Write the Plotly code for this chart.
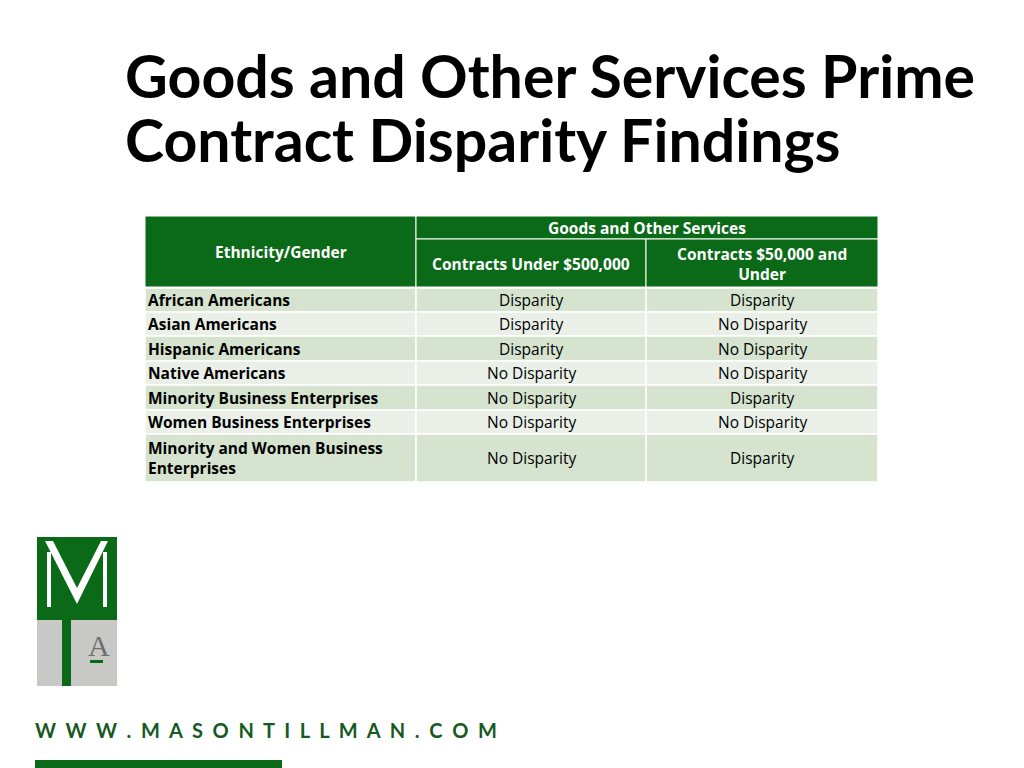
import plotly.graph_objects as go

title_lines = ["Goods and Other Services Prime", "Contract Disparity Findings"]
group_header = "Goods and Other Services"
col_headers = ["Ethnicity/Gender", "Contracts Under $500,000", "Contracts $50,000 and<br>Under"]
groups = ["African Americans", "Asian Americans", "Hispanic Americans", "Native Americans",
          "Minority Business Enterprises", "Women Business Enterprises",
          "Minority and Women Business<br>Enterprises"]
under_500k = ["Disparity", "Disparity", "Disparity", "No Disparity", "No Disparity",
              "No Disparity", "No Disparity"]
under_50k = ["Disparity", "No Disparity", "No Disparity", "No Disparity", "Disparity",
             "No Disparity", "Disparity"]
website = "WWW.MASONTILLMAN.COM"

GREEN = "#0a6a17"
ROW_A = "#d5e3cf"
ROW_B = "#eaf0e8"
FONT = "Open Sans"
OFF = -8  # page body margin shifts the plot

fig = go.Figure()
shapes = []
ann = []

cols = [145, 416, 646, 878]
row_tops = [288, 312, 336, 361, 385, 410, 434, 482]


def rect(x0, y0, x1, y1, color, line="white", lw=1):
    shapes.append(dict(type="rect", xref="x", yref="y", x0=x0 + OFF, y0=y0 + OFF, x1=x1 + OFF, y1=y1 + OFF,
                       fillcolor=color, line=dict(color=line, width=lw), layer="below"))


def text(x, y, s, size=15, color="black", bold=False, anchor="center", fam=FONT):
    ann.append(dict(x=x + OFF, y=y + OFF, xref="x", yref="y", text=f"<b>{s}</b>" if bold else s,
                    showarrow=False, xanchor=anchor, yanchor="middle", align=anchor,
                    font=dict(family=fam, size=size, color=color)))


# header
rect(cols[0], 216, cols[1], 287, GREEN)
rect(cols[1], 216, cols[3], 239, GREEN)
rect(cols[1], 239, cols[2], 287, GREEN)
rect(cols[2], 239, cols[3], 287, GREEN)
text((cols[0] + cols[1]) / 2, 252, col_headers[0], 15.5, "white", True)
text((cols[1] + cols[3]) / 2, 228, group_header, 15.5, "white", True)
text((cols[1] + cols[2]) / 2, 264, col_headers[1], 15.5, "white", True)
text((cols[2] + cols[3]) / 2, 264, col_headers[2], 15.5, "white", True)

for i, g in enumerate(groups):
    y0, y1 = row_tops[i], row_tops[i + 1]
    c = ROW_A if i % 2 == 0 else ROW_B
    for j in range(3):
        rect(cols[j], y0, cols[j + 1], y1, c, "white", 1.5)
    ym = (y0 + y1) / 2
    text(cols[0] + 1, ym, g, 15.5, "black", True, "left")
    text((cols[1] + cols[2]) / 2, ym, under_500k[i], 15.5)
    text((cols[2] + cols[3]) / 2, ym, under_50k[i], 15.5)

# title
for k, line in enumerate(title_lines):
    text(123, 75 + k * 64, line, 59, "black", True, "left", "Lato")

# logo
rect(37, 537, 117, 614, GREEN, GREEN, 0)
shapes.append(dict(type="path",
                   path=" ".join(f"{c} {x + OFF} {y + OFF}" for c, x, y in [
                       ("M", 45, 541), ("L", 53, 541), ("L", 77, 588), ("L", 101, 541), ("L", 108, 541),
                       ("L", 77, 604)]) + " Z",
                   fillcolor="white", line=dict(width=0), xref="x", yref="y"))
rect(47, 552, 51, 607, "white", "white", 0)
rect(103, 552, 107, 607, "white", "white", 0)
rect(37, 614, 117, 686, "#c8c8c6", "#c8c8c6", 0)
rect(37, 614, 117, 620, GREEN, GREEN, 0)
rect(62, 620, 71, 686, GREEN, GREEN, 0)
text(99, 645, "A", 30, "#6f6f6f", False, "center", "Liberation Serif")
rect(90, 660, 103, 663, GREEN, GREEN, 0)

# website
text(33, 730, "  ".join(website), 20, "#17591f", True, "left", "Lato")
rect(35, 760, 282, 768, GREEN, GREEN, 0)

fig.update_layout(
    width=1024, height=768, margin=dict(l=0, r=0, t=0, b=0),
    paper_bgcolor="white", plot_bgcolor="white",
    xaxis=dict(range=[0, 1024], visible=False, fixedrange=True),
    yaxis=dict(range=[768, 0], visible=False, fixedrange=True),
    shapes=shapes, annotations=ann, showlegend=False,
)
fig.write_html("out.html")
